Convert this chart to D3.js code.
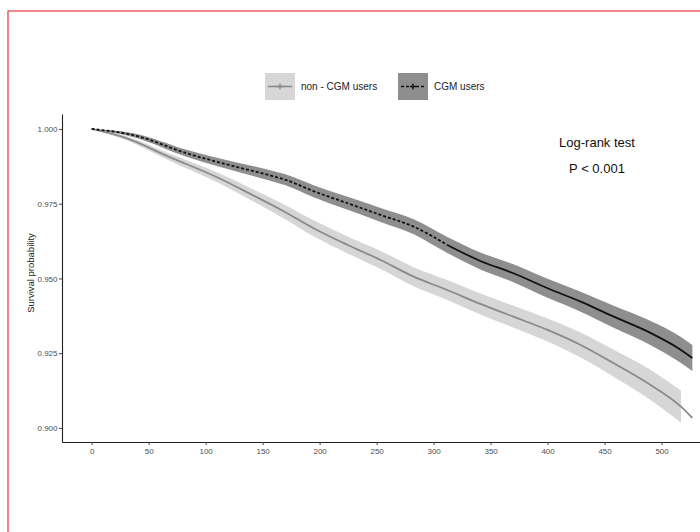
<!DOCTYPE html>
<html>
<head>
<meta charset="utf-8">
<script src="https://cdn.jsdelivr.net/npm/d3@7"></script>
<style>
  body { margin: 0; background: #fff; }
  text { font-family: "Liberation Sans", Arial, sans-serif; }
</style>
</head>
<body>
<svg id="chart" width="700" height="532"></svg>
<script>
// survival estimates (time in days)
var cgmTime  = [0, 38.6, 82.5, 126.3, 155, 170, 194.7, 224.6, 253.5, 282.5, 312, 341, 370, 400, 429, 458, 488, 517, 527];
var cgmSurv  = [1.0, 0.99776, 0.99197, 0.98739, 0.98462, 0.98300, 0.97920, 0.97515, 0.97124, 0.96732, 0.9612, 0.95585, 0.95174, 0.94672, 0.94224, 0.93722, 0.93221, 0.92609, 0.92341];
var cgmLower = [1.0, 0.99709, 0.9908, 0.98589, 0.98288, 0.98116, 0.97719, 0.97298, 0.9689, 0.96481, 0.95852, 0.95301, 0.94873, 0.94354, 0.9389, 0.93354, 0.9282, 0.92174, 0.91906];
var cgmUpper = [1.0, 0.99843, 0.99314, 0.98889, 0.98636, 0.98484, 0.98121, 0.97732, 0.97358, 0.96983, 0.96388, 0.95869, 0.95475, 0.9499, 0.94558, 0.9409, 0.93622, 0.93044, 0.92776];

var nonTime  = [0, 29.8, 67.5, 111.4, 141, 168, 194.7, 224.6, 253.5, 282.5, 312, 341, 370, 400, 429, 458, 488, 517, 527];
var nonSurv  = [1.0, 0.99699, 0.99074, 0.98361, 0.97793, 0.97258, 0.96680, 0.9612, 0.95619, 0.9506, 0.94615, 0.94147, 0.93722, 0.93278, 0.92776, 0.92164, 0.91495, 0.90712, 0.90334];
var nonLower = [1.0, 0.99632, 0.98957, 0.98194, 0.97592, 0.97024, 0.96412, 0.95836, 0.95318, 0.94742, 0.94281, 0.93796, 0.93354, 0.92893, 0.92358, 0.91713, 0.90993, 0.90177, 0.89799];
var nonUpper = [1.0, 0.99766, 0.99191, 0.98528, 0.97994, 0.97492, 0.96948, 0.96404, 0.9592, 0.95378, 0.94949, 0.94498, 0.9409, 0.93663, 0.93194, 0.92615, 0.91997, 0.91247, 0.90869];

var xTicks = [0, 50, 100, 150, 200, 250, 300, 350, 400, 450, 500];
var yTicks = [0.900, 0.925, 0.950, 0.975, 1.000];
var seriesNames = ["non - CGM users", "CGM users"];

var svg = d3.select("#chart");

// red frame of the original figure (only top/left fall inside the crop)
svg.append("rect")
    .attr("x", 8).attr("y", 11)
    .attr("width", 800).attr("height", 600)
    .attr("fill", "none")
    .attr("stroke", "#e8393f")
    .attr("stroke-width", 1.2);

var x = d3.scaleLinear().domain([-26, 553]).range([62, 722]),
    y = d3.scaleLinear().domain([0.8953, 1.005]).range([442, 114]);

function rows(t, s, lo, hi) {
  return t.map(function(d, i) { return {t: d, s: s[i], lo: lo[i], hi: hi[i]}; });
}
var cgm = rows(cgmTime, cgmSurv, cgmLower, cgmUpper),
    non = rows(nonTime, nonSurv, nonLower, nonUpper);

var area = d3.area()
    .curve(d3.curveMonotoneX)
    .x(function(d) { return x(d.t); })
    .y0(function(d) { return y(d.lo); })
    .y1(function(d) { return y(d.hi); });

var line = d3.line()
    .curve(d3.curveMonotoneX)
    .x(function(d) { return x(d.t); })
    .y(function(d) { return y(d.s); });

// confidence bands (light band stops a little before its curve)
svg.append("path").datum(non.filter(function(d) { return d.t <= 517; }))
    .attr("d", area)
    .attr("fill", "#d6d6d6");
svg.append("path").datum(cgm)
    .attr("d", area)
    .attr("fill", "#8e8e8e");

// survival curves
svg.append("path").datum(non)
    .attr("d", line)
    .attr("fill", "none")
    .attr("stroke", "#8a8a8a")
    .attr("stroke-width", 1.8);

// CGM curve looks dashed early on, solid once the censor marks thin out
svg.append("path").datum(cgm.filter(function(d) { return d.t <= 312; }))
    .attr("d", line)
    .attr("fill", "none")
    .attr("stroke", "#111")
    .attr("stroke-width", 1.8)
    .attr("stroke-dasharray", "3,2");
svg.append("path").datum(cgm.filter(function(d) { return d.t >= 312; }))
    .attr("d", line)
    .attr("fill", "none")
    .attr("stroke", "#111")
    .attr("stroke-width", 1.8);

// axes
var yAxis = svg.append("g")
    .attr("class", "axis")
    .attr("transform", "translate(62,0)")
    .call(d3.axisLeft(y).tickValues(yTicks).tickFormat(d3.format(".3f")).tickSize(3).tickSizeOuter(0));

var xAxis = svg.append("g")
    .attr("class", "axis")
    .attr("transform", "translate(0,442)")
    .call(d3.axisBottom(x).tickValues(xTicks).tickSize(3).tickSizeOuter(0));

svg.selectAll(".axis .domain").attr("stroke", "#222").attr("stroke-width", 1.1);
svg.selectAll(".axis .tick line").attr("stroke", "#444");
svg.selectAll(".axis .tick text")
    .attr("fill", "#4d4d4d")
    .attr("font-size", "8px")
    .attr("font-family", "Liberation Sans, Arial, sans-serif");
yAxis.selectAll(".tick text").attr("x", -4.5);
xAxis.selectAll(".tick text").attr("y", 6);

svg.append("text")
    .attr("transform", "translate(31,273) rotate(-90)")
    .attr("text-anchor", "middle")
    .attr("dominant-baseline", "middle")
    .attr("font-size", "9.5px")
    .attr("fill", "#222")
    .text("Survival probability");

// annotation
svg.append("text")
    .attr("x", 597).attr("y", 147)
    .attr("text-anchor", "middle")
    .attr("font-size", "13px")
    .attr("fill", "#111")
    .text("Log-rank test");
svg.append("text")
    .attr("x", 597).attr("y", 173)
    .attr("text-anchor", "middle")
    .attr("font-size", "13px")
    .attr("fill", "#111")
    .text("P < 0.001");

// legend
var legendX = [265, 398],
    keyFill = ["#d6d6d6", "#8e8e8e"],
    keyStroke = ["#8a8a8a", "#111"],
    keyDash = [null, "3,2"];

var legend = svg.append("g").selectAll("g")
    .data(seriesNames)
    .enter().append("g")
    .attr("transform", function(d, i) { return "translate(" + legendX[i] + ",73)"; });

legend.append("rect")
    .attr("width", 30).attr("height", 27)
    .attr("fill", function(d, i) { return keyFill[i]; });

legend.append("line")
    .attr("x1", 3).attr("x2", 27)
    .attr("y1", 13.5).attr("y2", 13.5)
    .attr("stroke", function(d, i) { return keyStroke[i]; })
    .attr("stroke-width", 1.6)
    .attr("stroke-dasharray", function(d, i) { return keyDash[i]; });

legend.append("path")
    .attr("d", "M12,13.5H18M15,10.5V16.5")
    .attr("stroke", function(d, i) { return keyStroke[i]; })
    .attr("stroke-width", 1.3);

legend.append("text")
    .attr("x", 36).attr("y", 14)
    .attr("dominant-baseline", "middle")
    .attr("font-size", "10px")
    .attr("fill", "#222")
    .text(function(d) { return d; });
</script>
</body>
</html>
